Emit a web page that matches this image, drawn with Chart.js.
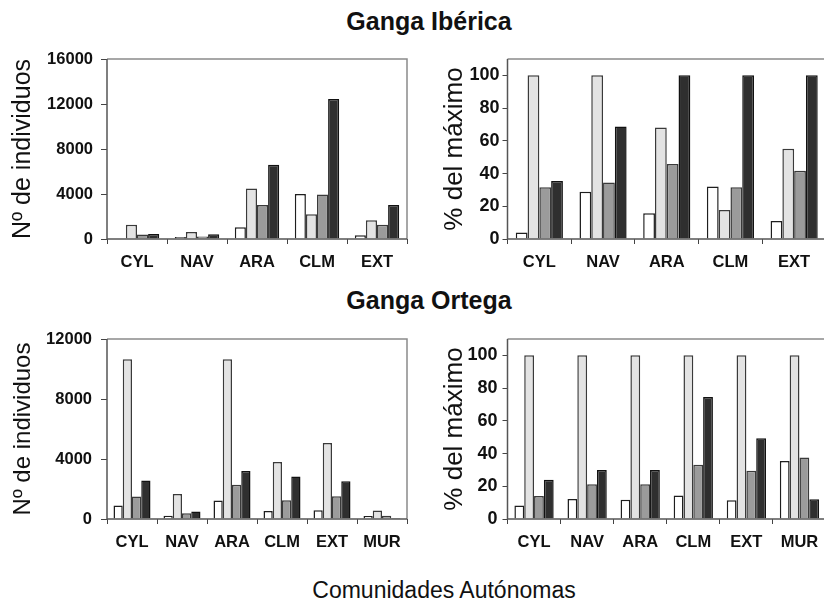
<!DOCTYPE html>
<html>
<head>
<meta charset="utf-8">
<script src="https://cdn.jsdelivr.net/npm/chart.js@4/dist/chart.umd.min.js"></script>
<style>
  html, body { margin: 0; padding: 0; overflow: hidden; background: #fff; width: 824px; height: 601px; }
  canvas { position: absolute; left: 0; top: 0; }
  .rotulo { position: absolute; white-space: nowrap; line-height: 1; color: #111;
            font-family: 'Liberation Sans', Arial, Helvetica, sans-serif; transform: translateX(-50%); }
</style>
</head>
<body>
<div class="rotulo" style="left:429px; top:9px; font-size:25px; font-weight:bold;">Ganga Ibérica</div>
<div class="rotulo" style="left:429px; top:288px; font-size:25px; font-weight:bold;">Ganga Ortega</div>
<div class="rotulo" style="left:444px; top:579px; font-size:23px;">Comunidades Autónomas</div>

<canvas id="ibericaN" width="832" height="601"></canvas>
<canvas id="ibericaP" width="832" height="601"></canvas>
<canvas id="ortegaN" width="832" height="601"></canvas>
<canvas id="ortegaP" width="832" height="601"></canvas>

<script>
// Comunidades autónomas de cada especie
const comunidadesIberica = ['CYL', 'NAV', 'ARA', 'CLM', 'EXT'];
const comunidadesOrtega  = ['CYL', 'NAV', 'ARA', 'CLM', 'EXT', 'MUR'];

// Ganga ibérica: número de individuos (cuatro series por comunidad)
const ibericaN1 = [50, 182, 1040, 4000, 335];
const ibericaN2 = [1270, 630, 4500, 2200, 1660];
const ibericaN3 = [403, 218, 3030, 3950, 1260];
const ibericaN4 = [450, 433, 6600, 12450, 3020];

// Ganga ibérica: porcentaje del máximo
const ibericaP1 = [3.9, 28.9, 15.7, 32.1, 11];
const ibericaP2 = [100, 100, 68.1, 17.7, 55.1];
const ibericaP3 = [31.7, 34.6, 45.9, 31.7, 41.7];
const ibericaP4 = [35.4, 68.7, 100, 100, 100];

// Ganga ortega: número de individuos
const ortegaN1 = [900, 220, 1230, 530, 580, 205];
const ortegaN2 = [10650, 1670, 10650, 3800, 5070, 560];
const ortegaN3 = [1500, 380, 2290, 1250, 1510, 215];
const ortegaN4 = [2570, 495, 3200, 2840, 2510, 60];

// Ganga ortega: porcentaje del máximo
const ortegaP1 = [8.3, 12.2, 11.8, 14.4, 11.4, 35.4];
const ortegaP2 = [100, 100, 100, 100, 100, 100];
const ortegaP3 = [14, 21.3, 21.3, 33.1, 29.5, 37.6];
const ortegaP4 = [24, 30, 30, 74.6, 49.4, 12];

// Marcas del eje vertical
const ticksIberica = [0, 4000, 8000, 12000, 16000];
const ticksOrtega  = [0, 4000, 8000, 12000];
const ticksPorcentaje = [0, 20, 40, 60, 80, 100];

Chart.defaults.font.family = "'Liberation Sans', Arial, Helvetica, sans-serif";
Chart.defaults.color = '#111';

const estilos = [
  { bg: '#ffffff', bd: '#1e1e1e' },
  { bg: '#e3e3e3', bd: '#3a3a3a' },
  { bg: '#9b9b9b', bd: '#3a3a3a' },
  { bg: '#2f2f2f', bd: '#111111' }
];

// Recuadro del área de trazado: ejes oscuros, borde superior y derecho gris
const marco = {
  id: 'marco',
  afterDatasetsDraw(chart) {
    const { ctx, chartArea: a } = chart;
    ctx.save();
    ctx.lineWidth = 1.5;
    ctx.strokeStyle = '#8a8a8a';
    ctx.beginPath();
    ctx.moveTo(a.left, a.top);
    ctx.lineTo(a.right, a.top);
    ctx.lineTo(a.right, a.bottom);
    ctx.stroke();
    ctx.strokeStyle = '#555';
    ctx.beginPath();
    ctx.moveTo(a.left, a.top);
    ctx.lineTo(a.left, a.bottom);
    ctx.lineTo(a.right, a.bottom);
    ctx.stroke();
    ctx.restore();
  }
};

function panel(id, labels, series, ticks, yMax, yTitle, g) {
  const datasets = series.map((d, i) => ({
    label: 'Serie ' + (i + 1),
    data: d,
    backgroundColor: estilos[i].bg,
    borderColor: estilos[i].bd,
    borderWidth: 1.5,
    borderSkipped: 'start',
    categoryPercentage: 0.74,
    barPercentage: 1
  }));
  return new Chart(document.getElementById(id), {
    type: 'bar',
    data: { labels, datasets },
    options: {
      responsive: false,
      animation: false,
      devicePixelRatio: 1,
      events: [],
      layout: { padding: { left: g.left, right: 832 - g.right, top: g.top, bottom: 601 - g.bottom - 40 } },
      plugins: { legend: { display: false }, tooltip: { enabled: false } },
      scales: {
        x: {
          grid: { display: true, drawOnChartArea: false, offset: true, tickLength: 5, color: '#444', lineWidth: 1 },
          border: { display: false },
          ticks: { color: '#111', font: { size: 16.5, weight: 'bold' }, padding: 9, maxRotation: 0, autoSkip: false },
          afterFit: s => { s.height = 40; }
        },
        y: {
          min: 0,
          max: yMax,
          afterBuildTicks: s => { s.ticks = ticks.map(v => ({ value: v })); },
          grid: { display: true, drawOnChartArea: false, tickLength: g.tl, color: '#444', lineWidth: 1 },
          border: { display: false },
          ticks: { color: '#111', font: { size: g.yFont, weight: 'bold' }, padding: g.yPad,
                   callback: v => String(v) },
          title: { display: true, text: yTitle, color: '#111',
                   font: { size: g.titleSize, weight: 'normal' }, padding: { top: g.titlePad, bottom: 0 } },
          afterFit: s => { s.width = g.axis - g.left; }
        }
      }
    },
    plugins: [marco]
  });
}

panel('ibericaN', comunidadesIberica, [ibericaN1, ibericaN2, ibericaN3, ibericaN4],
      ticksIberica, 16000, 'Nº de individuos',
      { left: 0, axis: 107, right: 407, top: 59, bottom: 239, tl: 6, yPad: 8, yFont: 16.5, titleSize: 25, titlePad: 8 });

panel('ibericaP', comunidadesIberica, [ibericaP1, ibericaP2, ibericaP3, ibericaP4],
      ticksPorcentaje, 110, '% del máximo',
      { left: 430, axis: 507.5, right: 826, top: 59, bottom: 239, tl: 5, yPad: 3, yFont: 18, titleSize: 26, titlePad: 9 });

panel('ortegaN', comunidadesOrtega, [ortegaN1, ortegaN2, ortegaN3, ortegaN4],
      ticksOrtega, 12000, 'Nº de individuos',
      { left: 0, axis: 107, right: 407, top: 339, bottom: 519, tl: 6, yPad: 9, yFont: 16.5, titleSize: 24, titlePad: 8.6 });

panel('ortegaP', comunidadesOrtega, [ortegaP1, ortegaP2, ortegaP3, ortegaP4],
      ticksPorcentaje, 110, '% del máximo',
      { left: 430, axis: 507.5, right: 826, top: 339, bottom: 519, tl: 5, yPad: 5, yFont: 18, titleSize: 26, titlePad: 9 });
</script>
</body>
</html>
